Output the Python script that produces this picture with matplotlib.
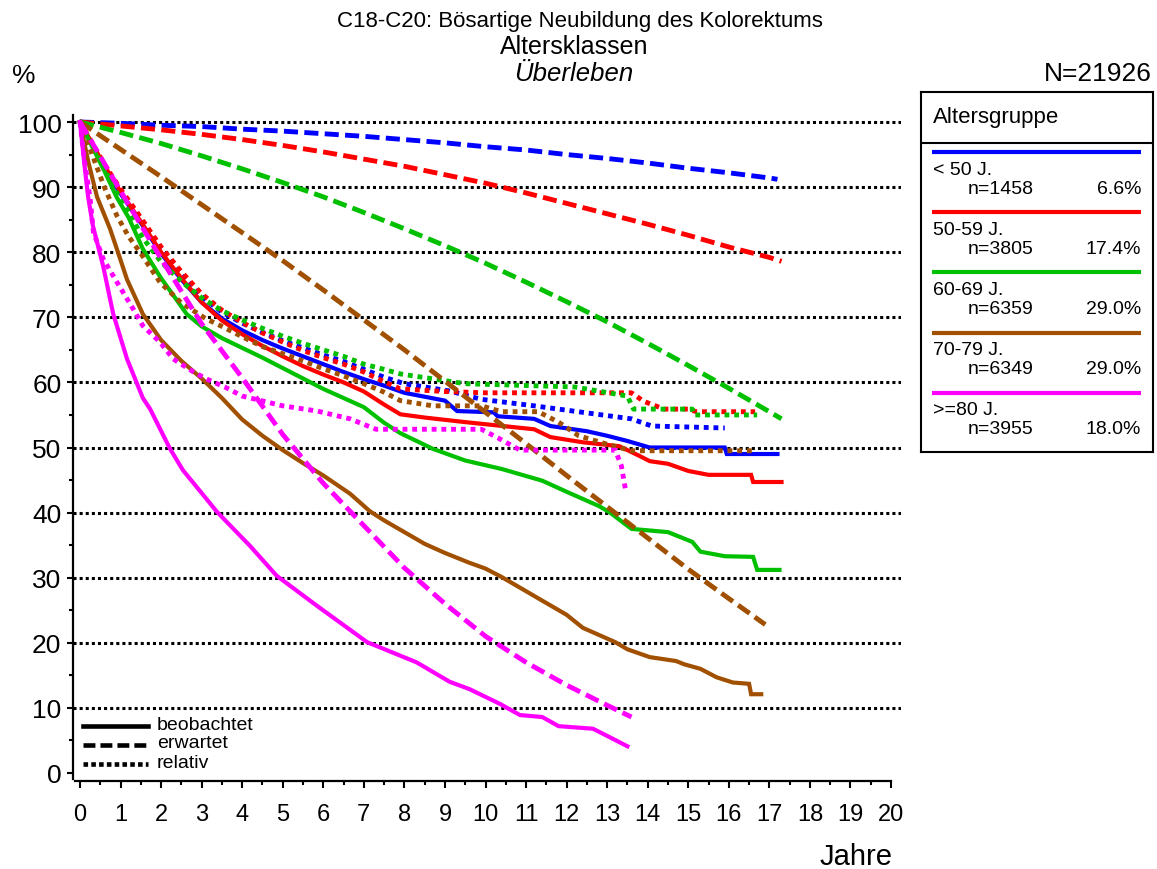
import matplotlib
matplotlib.use("Agg")
import matplotlib.pyplot as plt
from matplotlib.lines import Line2D

plt.rcParams['font.family'] = ['Liberation Sans', 'DejaVu Sans']

W, H = 1157, 870

# ---------------- data ----------------
groups = ['< 50 J.', '50-59 J.', '60-69 J.', '70-79 J.', '>=80 J.']
counts = [1458, 3805, 6359, 6349, 3955]
pcts = ['6.6%', '17.4%', '29.0%', '29.0%', '18.0%']
colors = ['#0000FF', '#FF0000', '#00C000', '#A05000', '#FF00FF']

# < 50 J.
g1_obs_t = [0, 0.3, 0.6, 1.0, 1.5, 2.0, 2.5, 3.0, 3.5, 4.0, 4.5, 5.0, 5.5, 6.0, 6.5, 7.0, 7.5, 8.0, 8.5, 9.0, 9.3, 10.2, 10.3, 11.2, 11.6, 12.5, 13.0, 13.5, 14.05, 15.9, 15.95, 17.2]
g1_obs_s = [100, 96.5, 93, 89, 84.5, 79.8, 75.8, 72.3, 69.8, 68.0, 66.5, 65.2, 64.0, 62.8, 61.6, 60.5, 59.5, 58.4, 57.8, 57.2, 55.6, 55.4, 54.8, 54.4, 53.3, 52.5, 51.8, 51.0, 50.0, 50.0, 49.0, 49.0]
g1_exp_t = [0, 1, 2, 3, 4, 5, 6, 7, 8, 9, 10, 11, 12, 13, 14, 15, 16, 17, 17.2]
g1_exp_s = [100, 99.8, 99.5, 99.3, 98.9, 98.6, 98.2, 97.8, 97.3, 96.8, 96.2, 95.7, 95.0, 94.4, 93.7, 92.9, 92.2, 91.4, 91.2]
g1_rel_t = [0, 0.3, 0.6, 1, 1.5, 2, 2.5, 3, 3.5, 4, 4.5, 5, 5.5, 6, 6.5, 7, 7.5, 8, 9.1, 9.9, 11.2, 12.4, 13.6, 14.1, 15.9]
g1_rel_s = [100, 96.6, 93.2, 89.3, 85, 80.4, 76.5, 73.2, 70.8, 69.1, 67.7, 66.4, 65.3, 64.2, 63.2, 62.0, 60.8, 59.8, 58.7, 57.4, 56.4, 55.4, 54.4, 53.3, 53.0]

# 50-59 J.
g2_obs_t = [0, 0.3, 0.6, 1, 1.5, 2, 2.5, 3, 3.5, 4, 4.5, 5, 5.5, 6, 6.5, 7, 7.5, 7.9, 8.5, 9.5, 11.2, 11.6, 12.4, 13.3, 13.8, 14.05, 14.5, 15.0, 15.5, 16.55, 16.6, 17.3]
g2_obs_s = [100, 96.7, 93.3, 89.3, 84.7, 80, 76, 72.3, 69.5, 67.4, 65.6, 64.0, 62.5, 61.2, 60, 58.6, 56.6, 55.1, 54.6, 53.9, 52.8, 51.6, 50.8, 50.2, 48.7, 47.9, 47.5, 46.4, 45.8, 45.8, 44.7, 44.7]
g2_exp_t = [0, 1, 2, 3, 4, 5, 6, 7, 8, 9, 10, 11, 12, 13, 14, 15, 16, 17, 17.3]
g2_exp_s = [100, 99.4, 98.8, 98.1, 97.3, 96.4, 95.4, 94.3, 93.2, 91.9, 90.6, 89.1, 87.5, 85.9, 84.3, 82.6, 80.8, 79.2, 78.6]
g2_rel_t = [0, 0.3, 0.6, 1, 1.5, 2, 2.5, 3, 3.5, 4, 4.5, 5, 5.5, 6, 6.5, 7, 7.5, 7.9, 9, 10, 12, 13.6, 13.9, 14.4, 15.0, 15.2, 16.65]
g2_rel_s = [100, 96.8, 93.5, 89.7, 85.3, 80.8, 77, 73.6, 71.1, 69.2, 67.6, 66.2, 64.9, 63.8, 62.8, 61.6, 60.1, 59.0, 58.6, 58.4, 58.4, 58.4, 57.1, 55.9, 55.9, 55.5, 55.5]

# 60-69 J.
g3_obs_t = [0, 0.3, 0.6, 0.9, 1.2, 1.55, 2, 2.3, 2.63, 3, 3.5, 4, 4.5, 5, 5.5, 6, 6.5, 7, 7.5, 7.9, 8.7, 9.5, 10.4, 11.4, 12, 12.8, 13.07, 13.6, 14.5, 15.1, 15.3, 15.9, 16.6, 16.7, 17.25]
g3_obs_s = [100, 96.2, 92.5, 88.5, 85.3, 80.5, 76, 73.4, 70.5, 68.6, 66.8, 65.3, 63.8, 62.2, 60.6, 59.0, 57.6, 56.2, 53.8, 52.2, 49.8, 48, 46.7, 44.9, 43.2, 41.0, 40, 37.5, 37.0, 35.5, 34.0, 33.3, 33.2, 31.2, 31.2]
g3_exp_t = [0, 1, 2, 3, 4, 5, 6, 7, 8, 9, 10, 11, 12, 13, 14, 15, 16, 17, 17.3]
g3_exp_s = [100, 98.4, 96.7, 94.8, 92.8, 90.7, 88.5, 86.1, 83.6, 81.0, 78.3, 75.4, 72.4, 69.3, 66.0, 62.6, 59.1, 55.5, 54.4]
g3_rel_t = [0, 0.3, 0.6, 0.9, 1.2, 1.55, 2, 2.5, 3, 3.5, 4, 4.5, 5, 5.5, 6, 6.5, 7, 7.5, 7.9, 9.5, 12.2, 13.5, 13.65, 15.1, 15.15, 16.7]
g3_rel_s = [100, 96.4, 92.8, 89.2, 86.2, 82.2, 78.5, 75.5, 73, 71, 69.6, 68.3, 67.1, 66, 65, 64, 62.8, 62, 61.3, 59.8, 59.3, 57.9, 55.9, 55.9, 55.0, 55.0]

# 70-79 J.
g4_obs_t = [0, 0.2, 0.42, 0.74, 1, 1.16, 1.55, 2, 2.5, 3, 3.5, 4, 4.5, 5, 5.5, 6, 6.66, 7.15, 7.5, 8, 8.5, 9, 9.6, 10, 10.4, 11.2, 12, 12.4, 13.2, 13.5, 14.05, 14.7, 14.9, 15.3, 15.7, 16.1, 16.5, 16.55, 16.8]
g4_obs_s = [100, 94, 88.5, 83.6, 78.8, 75.8, 70.5, 66.5, 63.3, 60.6, 57.6, 54.3, 51.8, 49.6, 47.6, 45.7, 42.9, 40.2, 38.8, 37, 35.2, 33.8, 32.3, 31.4, 30.1, 27.2, 24.3, 22.3, 20.1, 19.0, 17.8, 17.2, 16.7, 16.0, 14.7, 13.9, 13.7, 12.1, 12.1]
g4_exp_t = [0, 1, 2, 3, 4, 5, 6, 7, 8, 9, 10, 11, 12, 13, 14, 15, 16, 16.9]
g4_exp_s = [100, 95.8, 91.6, 87.3, 83.0, 78.7, 74.2, 69.6, 65.0, 60.2, 55.4, 50.6, 45.7, 40.9, 36.1, 31.3, 26.8, 22.8]
g4_rel_t = [0, 0.3, 0.6, 0.91, 1.2, 1.48, 1.97, 2.5, 3.1, 3.5, 4.1, 4.5, 5, 5.5, 6, 6.5, 7, 7.5, 7.9, 8.7, 9.9, 10.4, 11.3, 11.8, 12.3, 13.0, 13.6, 16.6]
g4_rel_s = [100, 95, 90, 85.6, 82.4, 80, 75.4, 72.2, 69.8, 68.6, 66.7, 65.5, 64.4, 63.3, 62.1, 61.0, 59.8, 58.5, 57.2, 56.4, 56.4, 55.5, 55.5, 53.9, 51.8, 50.5, 49.5, 49.5]

# >=80 J.
g5_obs_t = [0, 0.1, 0.2, 0.32, 0.57, 0.82, 1.16, 1.55, 1.73, 2.22, 2.54, 3, 3.38, 4.19, 4.85, 5.84, 7.08, 8.3, 9.12, 9.6, 10.36, 10.85, 11.4, 11.8, 12.65, 13.0, 13.5]
g5_obs_s = [100, 94, 88.5, 84, 77.9, 70.5, 63.6, 57.6, 55.9, 49.8, 46.5, 43, 40.1, 34.9, 30.3, 25.7, 20.1, 17.0, 14.0, 12.9, 10.6, 8.9, 8.6, 7.2, 6.8, 5.7, 4.1]
g5_exp_t = [0, 1, 2, 3, 4, 5, 6, 7, 8, 9, 10, 11, 12, 13, 13.6]
g5_exp_s = [100, 89.4, 79, 69, 60.7, 52, 44.5, 38, 31.5, 26, 21, 17, 13.5, 10.4, 8.6]
g5_rel_t = [0, 0.1, 0.25, 0.33, 0.57, 0.91, 1.31, 1.55, 1.97, 2.3, 2.8, 3.13, 3.6, 4.0, 5.0, 5.85, 6.66, 7.3, 9.9, 10.3, 10.85, 13.2, 13.35, 13.45]
g5_rel_s = [100, 94.5, 88.2, 83.1, 79, 75.4, 71.3, 68.7, 66.2, 63.6, 61.6, 60.5, 59.2, 57.9, 56.4, 55.6, 54.4, 52.8, 52.8, 51.5, 49.6, 49.6, 47.2, 43.6]

series = [
    (g1_obs_t, g1_obs_s, g1_exp_t, g1_exp_s, g1_rel_t, g1_rel_s),
    (g2_obs_t, g2_obs_s, g2_exp_t, g2_exp_s, g2_rel_t, g2_rel_s),
    (g3_obs_t, g3_obs_s, g3_exp_t, g3_exp_s, g3_rel_t, g3_rel_s),
    (g4_obs_t, g4_obs_s, g4_exp_t, g4_exp_s, g4_rel_t, g4_rel_s),
    (g5_obs_t, g5_obs_s, g5_exp_t, g5_exp_s, g5_rel_t, g5_rel_s),
]

x_ticks = list(range(0, 21))
y_ticks = list(range(0, 101, 10))
grid_levels = list(range(10, 101, 10))

# ---------------- figure ----------------
fig = plt.figure(figsize=(W / 100, H / 100), dpi=100)

def fx(px):
    return px / W

def fy(py):
    return 1 - py / H

ax_left, ax_right, ax_top, ax_bot = 73, 901, 116, 782
ax = fig.add_axes([fx(ax_left), fy(ax_bot), (ax_right - ax_left) / W, (ax_bot - ax_top) / H])
# data mapping: x0=80px, 40.55 px/yr ; y0=774px, 6.51 px/%
ax.set_xlim((ax_left - 80) / 40.55, (ax_right - 80) / 40.55)
ax.set_ylim((774 - ax_bot) / 6.51, (774 - ax_top) / 6.51)

for s in ['top', 'right']:
    ax.spines[s].set_visible(False)
ax.spines['left'].set_linewidth(1.6)
ax.spines['bottom'].set_linewidth(1.6)
ax.spines['left'].set_bounds((774 - 780) / 6.51, (774 - ax_top) / 6.51)
ax.spines['bottom'].set_bounds((75 - 80) / 40.55, 20)

ax.set_xticks(x_ticks)
ax.set_xticks([i + 0.5 for i in range(20)], minor=True)
ax.set_yticks(y_ticks)
ax.set_yticks([i + 5 for i in range(0, 100, 10)], minor=True)
ax.tick_params(axis='y', which='major', length=4.3, width=1.5, labelsize=19, pad=4)
ax.tick_params(axis='y', which='minor', length=2.9, width=1.5)
ax.tick_params(axis='x', which='major', length=5, width=1.5, labelsize=17, pad=11)
ax.tick_params(axis='x', which='minor', length=2.8, width=1.5)

xl, xr = ax.get_xlim()
ax.hlines(grid_levels, xl, xr, colors='black', linewidth=2.2, linestyles=(0, (1, 1)), zorder=1)

dash = (0, (2.9, 1.3))
dot = (0, (1, 1))
for (ot, os_, et, es, rt, rs), c in zip(series, colors):
    ax.plot(ot, os_, color=c, lw=3.0, solid_joinstyle='miter', zorder=3)
    ax.plot(et, es, color=c, lw=3.5, linestyle=dash, dash_capstyle='butt', zorder=3)
    ax.plot(rt, rs, color=c, lw=3.5, linestyle=dot, dash_capstyle='butt', zorder=3)

# line-type legend (bottom left)
lt_labels = ['beobachtet', 'erwartet', 'relativ']
lt_styles = ['-', (0, (2.6, 1.1)), (0, (1, 0.7))]
for i, (lab, ls) in enumerate(zip(lt_labels, lt_styles)):
    yy = 727 + 19 * i
    fig.add_artist(Line2D([fx(83), fx(148)], [fy(yy), fy(yy)], transform=fig.transFigure,
                          color='black', lw=3.3, linestyle=ls, dash_capstyle='butt'))
    fig.text(fx(157), fy(yy - 2), lab, fontsize=14, va='center', ha='left')

# titles
fig.text(fx(580), fy(22), 'C18-C20: Bösartige Neubildung des Kolorektums', fontsize=16, ha='center', va='center')
fig.text(fx(574), fy(47), 'Altersklassen', fontsize=18, ha='center', va='center')
fig.text(fx(574), fy(74), 'Überleben', fontsize=18.5, ha='center', va='center', style='italic')
fig.text(fx(12), fy(76), '%', fontsize=19, ha='left', va='center')
fig.text(fx(1152), fy(74), 'N=21926', fontsize=19, ha='right', va='center')
fig.text(fx(893), fy(857), 'Jahre', fontsize=21, ha='right', va='center')

# group legend box (right)
bx0, by0, bx1, by1 = 921, 93, 1153, 453
lax = fig.add_axes([fx(bx0), fy(by1), (bx1 - bx0) / W, (by1 - by0) / H])
lax.set_xlim(0, bx1 - bx0)
lax.set_ylim(by1 - by0, 0)
lax.set_xticks([])
lax.set_yticks([])
for s in lax.spines.values():
    s.set_linewidth(1.5)
lax.text(12, 24, 'Altersgruppe', fontsize=16, va='center', ha='left')
lax.plot([0, bx1 - bx0], [51, 51], color='black', lw=1.5)
for i, (g, n, p, c) in enumerate(zip(groups, counts, pcts, colors)):
    y0 = 60 + 60.2 * i
    lax.plot([11, 220], [y0, y0], color=c, lw=3.0, solid_capstyle='butt')
    lax.text(12, y0 + 17, g, fontsize=14, va='center', ha='left')
    lax.text(47, y0 + 36, f'n={n}', fontsize=14, va='center', ha='left')
    lax.text(220, y0 + 36, p, fontsize=14, va='center', ha='right')

fig.savefig('out.png', dpi=100)
